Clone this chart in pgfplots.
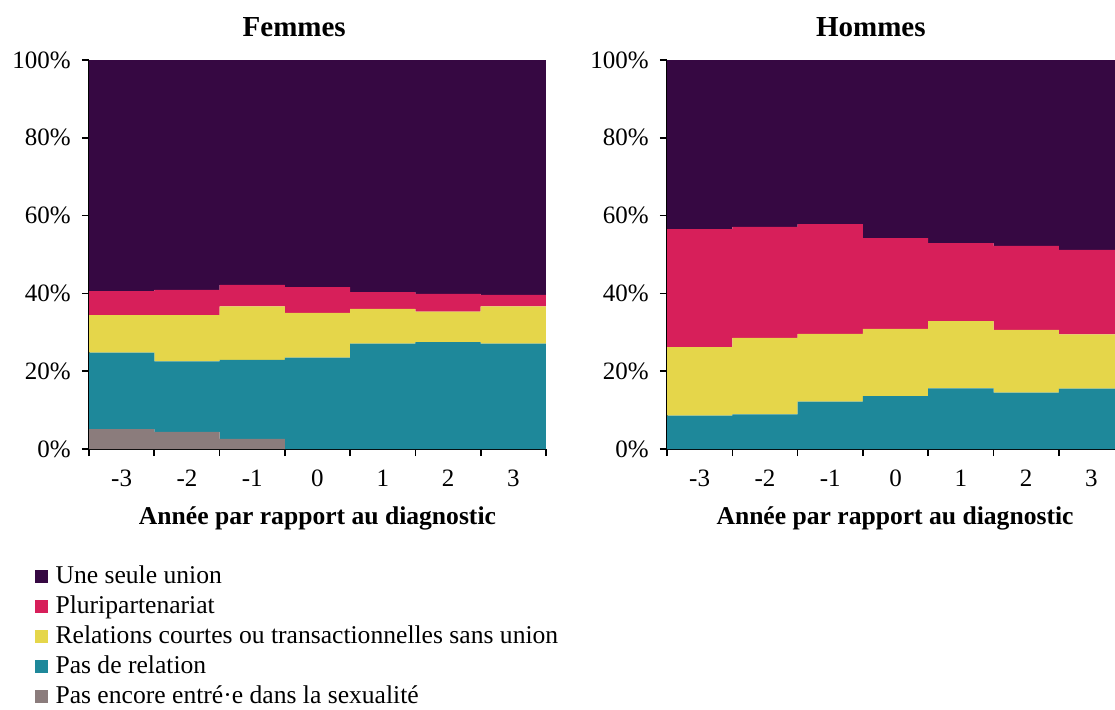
\documentclass[border=0pt]{standalone}
\usepackage{fontspec}
\setmainfont{Liberation Serif}
\usepackage{pgfplots}
\pgfplotsset{compat=1.18}
\definecolor{cPur}{RGB}{54,8,66}
\definecolor{cPink}{RGB}{215,31,90}
\definecolor{cYel}{RGB}{229,214,74}
\definecolor{cTeal}{RGB}{30,136,154}
\definecolor{cGray}{RGB}{139,124,124}
\newcommand\f{\fontsize{12.5pt}{15pt}\selectfont}
\newcommand\fl{\fontsize{12.8pt}{15pt}\selectfont}
\pgfplotsset{
  common/.style={
    ybar stacked, bar width=1, bar shift=0pt,
    scale only axis, height=194.5pt,
    ymin=0, ymax=100, xmin=-3.5,
    axis lines*=left,
    axis line style={black, line width=0.8pt},
    every tick/.style={black, line width=0.8pt},
    tick align=outside, major tick length=3.6pt,
    ytick={0,20,...,100},
    yticklabel={\pgfmathprintnumber{\tick}\%},
    /pgf/number format/assume math mode=true,
    yticklabel style={xshift=-2pt},
    xtick={-3.5,-2.5,...,3.5}, xticklabels={},
    extra x ticks={-3,-2,-1,0,1,2,3},
    extra x tick labels={-3,-2,-1,0,1,2,3},
    extra x tick style={major tick length=0pt, xticklabel style={yshift=-7pt}},
    tick label style={font=\f},
    label style={font=\bfseries\fl},
    title style={font=\bfseries\fontsize{14.5pt}{17pt}\selectfont, anchor=center, yshift=10.5pt},
    clip=true,
  },
}
\begin{document}
\begin{tikzpicture}
\path[use as bounding box] (0pt,0pt) rectangle (557.5pt,-354.5pt);
\begin{axis}[common,
  at={(44.5pt,-224.5pt)}, anchor=south west,
  width=228.5pt, xmax=3.5,
  title={Femmes}, title style={at={(0.449,1)}},
  xlabel={Année par rapport au diagnostic},
  xlabel style={at={(0.5,0)}, anchor=center, yshift=-34.5pt},
  reverse legend,
  legend style={at={(-0.120,-0.290)}, anchor=north west, draw=none, fill=none,
    font=\fl, inner sep=0pt, row sep=0.55pt, cells={anchor=west}},
  legend image code/.code={\fill[#1] (0pt,-3.25pt) rectangle (6.5pt,3.25pt);\path (8.5pt,0pt);},
]
\addplot[fill=cGray, draw=none] coordinates {(-3,5.1) (-2,4.4) (-1,2.6) (0,0) (1,0) (2,0) (3,0)};
\addlegendentry{Pas encore entré·e dans la sexualité}
\addplot[fill=cTeal, draw=none] coordinates {(-3,19.7) (-2,18.1) (-1,20.3) (0,23.5) (1,27.1) (2,27.5) (3,27.1)};
\addlegendentry{Pas de relation}
\addplot[fill=cYel, draw=none] coordinates {(-3,9.6) (-2,11.9) (-1,13.8) (0,11.5) (1,8.9) (2,7.8) (3,9.6)};
\addlegendentry{Relations courtes ou transactionnelles sans union}
\addplot[fill=cPink, draw=none] coordinates {(-3,6.2) (-2,6.5) (-1,5.5) (0,6.6) (1,4.3) (2,4.6) (3,2.9)};
\addlegendentry{Pluripartenariat}
\addplot[fill=cPur, draw=none] coordinates {(-3,59.4) (-2,59.1) (-1,57.8) (0,58.4) (1,59.7) (2,60.1) (3,60.4)};
\addlegendentry{Une seule union}
\end{axis}
\begin{axis}[common,
  at={(333.5pt,-224.5pt)}, anchor=south west,
  width=224pt, xmax=3.36,
  title={Hommes}, title style={at={(0.455,1)}},
  xlabel={Année par rapport au diagnostic},
  xlabel style={at={(0.509,0)}, anchor=center, yshift=-34.5pt},
]
\addplot[fill=cTeal, draw=none] coordinates {(-3,8.6) (-2,8.9) (-1,12.2) (0,13.6) (1,15.6) (2,14.5) (3,15.5)};
\addplot[fill=cYel, draw=none] coordinates {(-3,17.6) (-2,19.7) (-1,17.4) (0,17.3) (1,17.3) (2,16.1) (3,14.0)};
\addplot[fill=cPink, draw=none] coordinates {(-3,30.3) (-2,28.5) (-1,28.2) (0,23.3) (1,20.0) (2,21.6) (3,21.7)};
\addplot[fill=cPur, draw=none] coordinates {(-3,43.5) (-2,42.9) (-1,42.2) (0,45.8) (1,47.1) (2,47.8) (3,48.8)};
\end{axis}
\end{tikzpicture}
\end{document}
